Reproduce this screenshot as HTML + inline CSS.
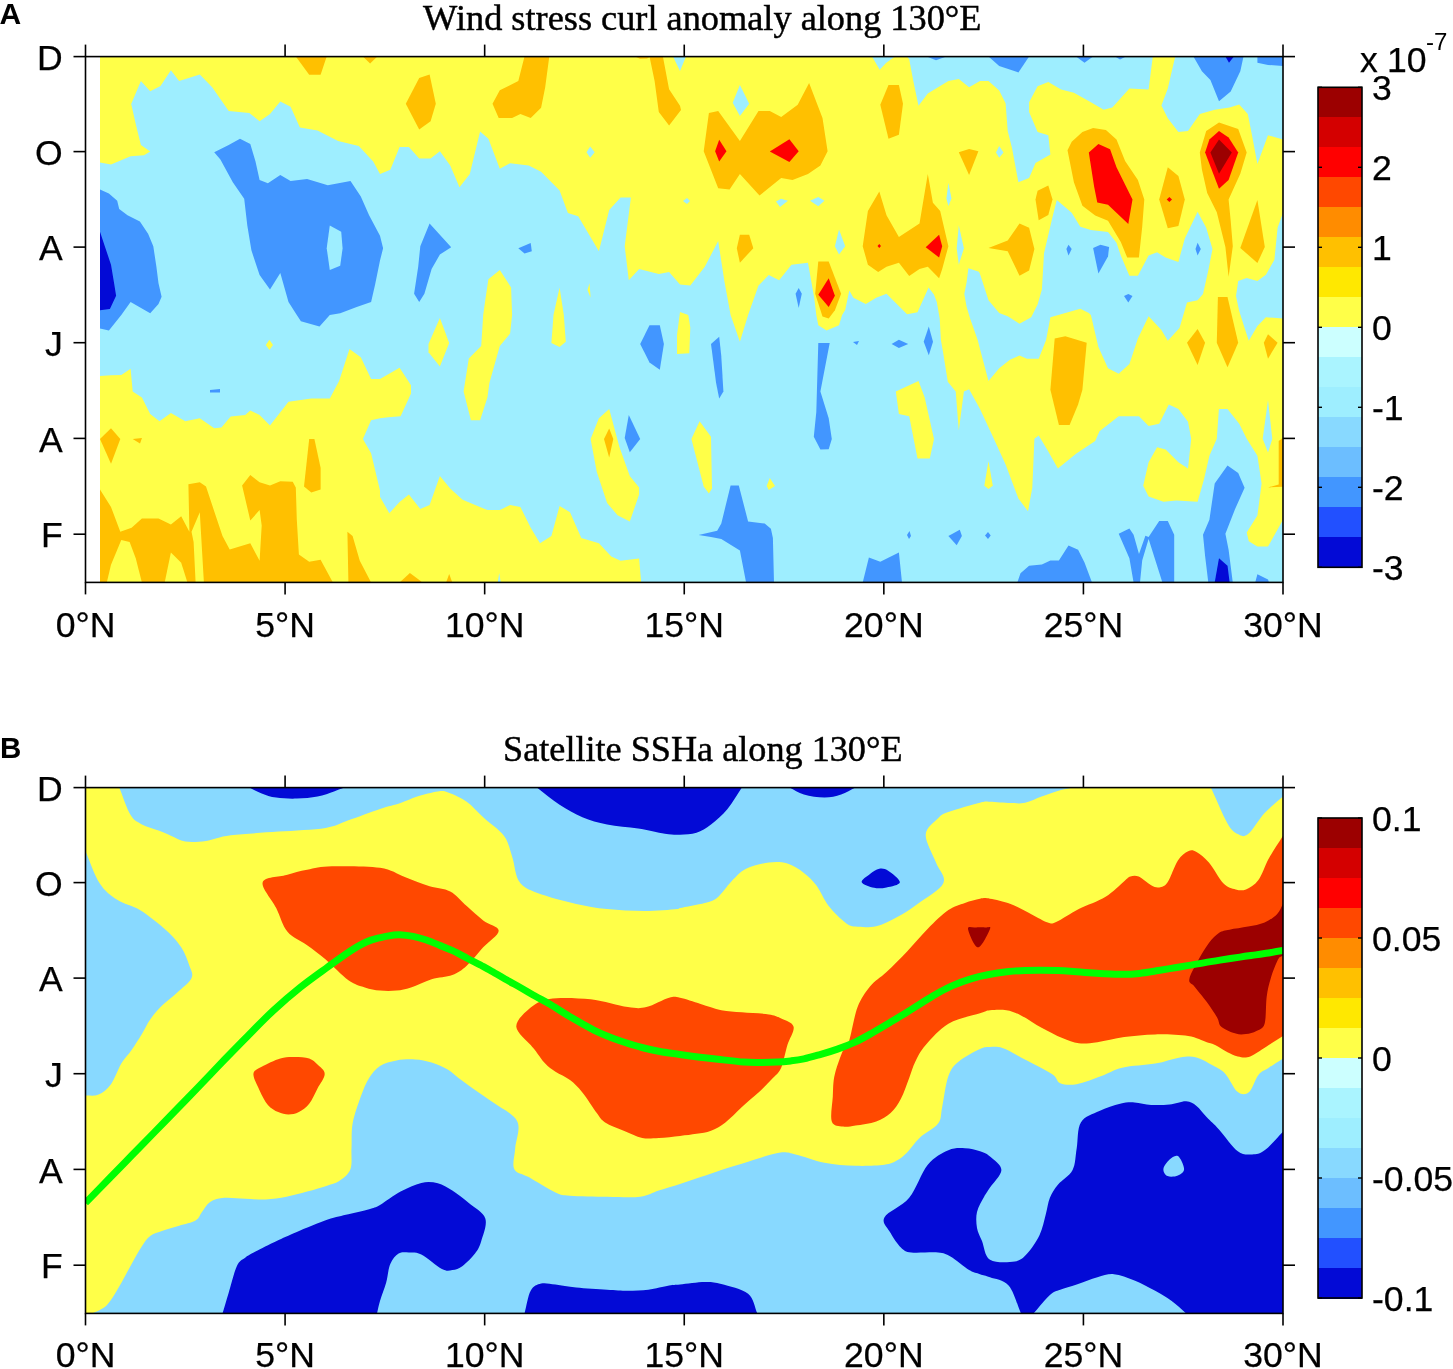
<!DOCTYPE html>
<html><head><meta charset="utf-8"><style>html,body{margin:0;padding:0;background:#fff;}svg{display:block;will-change:transform;}</style></head><body>
<svg width="1453" height="1369" viewBox="0 0 1453 1369">
<rect width="100%" height="100%" fill="#fff"/>
<defs><clipPath id="ca"><rect x="85.5" y="56.6" width="1197.5" height="525.8"/></clipPath><clipPath id="cb"><rect x="85.5" y="787.6" width="1197.5" height="525.8000000000001"/></clipPath></defs>
<g clip-path="url(#ca)">
<rect x="100" y="56.6" width="1183.0" height="525.8" fill="#FFFF48"/>
<polygon points="100,162.5 111,164.6 130.6,156.3 144,155.3 150.2,151.6 140.9,145 135.8,124.3 131.2,104.1 140.9,81 150.2,91.3 160.5,86.1 170.9,70.2 179.1,81 199.8,74.4 212.2,87.2 228.7,110.9 249.3,113 259.6,121.2 270,114 280.3,101.6 290.6,106.8 299.9,127.4 317.5,130.5 338.1,140.9 358.8,146 373.2,161.5 380,173.9 390.3,169.8 399.6,147 408.9,147 419.2,158.4 430.6,158.4 439.9,151.2 450.2,165.6 459.5,187.3 469.8,173.9 480.1,131.6 488.4,138.8 499.8,168.7 510.1,163.2 528.7,165.6 541.1,171.8 559.6,190.4 567.9,213.1 578.2,216.2 598.9,251.3 609.2,210 620.6,197.6 630.9,197.6 624.7,246.2 628.8,280.2 639.1,268.9 658.8,274 669.1,272 680,284.4 690.3,285.4 704.8,266.8 718.2,241 724.4,281.3 730.6,315 739.9,341.8 748.1,315 758.5,285.4 768.8,275.1 779.1,280.2 791.5,264.7 808,262.7 814.2,297.8 816.3,315 818.3,325.3 826.6,330.5 839,325.3 842.1,315 845.2,310 849.3,290.6 853.4,297.8 865.8,304 876.2,297.8 886.5,293.7 896.8,304 907.1,314.3 917.5,312.2 928.6,287.5 933.9,294.5 936.8,302.1 939.7,318.4 940.9,340 943.1,352.6 947.8,381.8 955.7,391.4 958.8,430.6 963.9,391.4 969.1,389.3 980,408.9 992.8,436.6 1005.6,464.4 1018.4,498.5 1028,511.3 1032.3,487.8 1034.4,438.7 1038.7,435.5 1048.3,451.5 1057.9,468.6 1076,453.7 1095.2,440.9 1099.5,431.3 1118.7,416.3 1139,416.3 1148.6,425.9 1159.2,423.8 1168.8,404.6 1178.4,408.9 1188,421.7 1191.2,438.7 1188,468.6 1178.4,462.2 1165.6,449.4 1157.1,447.3 1148.6,462.2 1143.2,485.7 1148.6,496.4 1163.5,501.7 1176.3,500.6 1197.6,501.7 1204,479.3 1209.4,455.8 1216.8,438.7 1218.9,408.9 1227.5,408.9 1239.2,423.8 1246.7,438.7 1257.4,455.8 1261.6,483.6 1257.4,515.6 1246.7,532.6 1248.8,541.2 1257.4,546.5 1268,546.5 1283,519.8 1283,582.5 641.2,582.5 639.1,558.6 620.6,560.7 611.3,556.6 598.9,543.2 581.3,538 570,512.2 559.6,506 551.4,535.9 540,543.2 530.7,527.7 520.4,507 510.1,505 499.8,510.1 487.4,510.1 462.6,499.8 450.2,488.4 439.9,476.1 429.6,505 420.3,509.1 408.9,494.6 399.6,501.9 389.3,513.2 380,496.7 380,490.5 371.1,453.3 362.9,438.9 371.1,420.3 380,418.2 388.3,417.2 400.6,416.2 411,393.5 411,385.2 399.6,367.7 380,379 371.1,379 360.8,357.3 349.5,349.1 339.1,381.1 329.8,398.6 311.3,398.6 288.5,401.7 270,425.5 259.6,415.1 250.3,410.4 245.2,415.1 230.7,416.6 221.4,427.5 214.2,428.2 199.8,418.2 185.3,421.3 170.9,413.1 159.5,421.3 150.2,414.1 141.9,397.6 132.7,391.4 130.6,368.7 121.3,374.9 111,375.3 100,375.9" fill="#9EEEFF"/>
<polygon points="964.3,293.9 966.6,282.2 968.4,268.2 978.9,271.7 980,274 988.5,300.3 999.2,313.1 1007.7,316.3 1019.5,323.7 1031.2,317.3 1037.6,304.5 1041.9,289.6 1044,253.3 1052.5,217.1 1056.8,200 1071.7,212.8 1080.3,226.7 1090.9,229.9 1108,232 1116.5,242.7 1120.8,255.5 1129.4,275.7 1137.9,275.7 1148.6,255.5 1157.1,252.3 1165.6,257.6 1178.4,261.9 1184.8,238.4 1197.6,211.7 1206.2,227.7 1212.5,249.1 1208.3,270.4 1203,293.9 1197.6,300.3 1187,302.4 1179.5,328 1167.8,340.8 1161.4,330.1 1148.6,316.3 1137.9,338.5 1129.4,364.1 1118.7,373.7 1108,368.3 1098.4,347 1090.9,315 1088.8,313.1 1080.3,308.8 1050.4,317.3 1046.1,340 1038.7,358.7 1026.9,358.7 1019.5,355.5 1009.9,359.8 999.2,368.3 988.5,381.1 980,349.1 977.7,340 970.1,318.4 966.6,306.8" fill="#9EEEFF"/>
<polygon points="872,56.5 879.7,69.8 886,63 895,56.5" fill="#9EEEFF"/>
<polygon points="907,56.5 909.2,59.3 913.3,81 918.5,105.8 927.8,93.4 948.4,81 958.8,78.9 969.1,87.2 980,80.9 988.5,80.9 999.2,90.5 1005.6,103.3 1007.7,131.1 1012,148.1 1018.4,182.3 1029.1,178 1035.5,163.1 1050.4,154.5 1048.3,135.3 1037.6,132.1 1029.1,111.9 1029.1,102.3 1037.6,86.3 1048.3,82 1061.1,89.5 1073.9,92.7 1090.9,102.3 1103.7,109.7 1112.3,107.6 1129.4,88.4 1148.6,89.5 1152.8,56.5" fill="#9EEEFF"/>
<polygon points="1175.2,56.5 1283,56.5 1283,139.6 1268,135.3 1257.4,164.1 1252,135.3 1247.8,114 1239.2,104.4 1229.6,107.6 1214.7,109.7 1199.8,114 1188,131.1 1178.4,132.1 1167.8,118.3 1161.4,105.5 1167.8,88.4" fill="#9EEEFF"/>
<polygon points="1283,212.8 1277.6,227.7 1274.4,259.7 1265.9,274.7 1257.4,281.1 1246.7,277.9 1238.2,281.1 1236,296 1239.2,310.9 1244.6,328 1248.8,340.8 1257.4,325.9 1265.9,317.3 1283,318.4" fill="#9EEEFF"/>
<polygon points="673,56.5 686,56.5 680,71" fill="#9EEEFF"/>
<polygon points="488.4,279.2 499.8,269.9 511.1,287.5 512.1,315 510.1,333.6 499.8,346 489.4,383.1 487.4,397.6 480.1,420.3 470.9,420.3 463.6,391.4 468.8,358.4 481.2,346 483.2,315 485.3,300" fill="#FFFF48"/>
<polygon points="559.6,287.5 563.8,315 565.8,341.8 559.6,347 551.4,342.9 553.5,315" fill="#FFFF48"/>
<polygon points="428.5,343.9 439.9,318.1 449.2,342.9 439.9,366.6 428.5,352.2" fill="#FFFF48"/>
<polygon points="587.5,290 589.5,283.3 590.6,297.7" fill="#FFFF48"/>
<polygon points="265.8,345 269.4,339.8 273,345 269.4,350" fill="#FFFF48"/>
<polygon points="590.6,438.9 598.9,418.2 609.2,409 619.5,447.2 629.8,476.1 639.1,487.4 639.1,494.6 629.8,521.5 617.5,515.3 607.1,502.9 596.8,471.9" fill="#FFFF48"/>
<polygon points="691.4,438.9 699.6,421.3 711,436.8 712,488.4 708.9,493.6 703.7,486.4" fill="#FFFF48"/>
<polygon points="766.7,486 769.8,478 775,486 768.8,490" fill="#FFFF48"/>
<polygon points="677,335 680,312 688.3,315 690.3,327.4 689.3,353.2 677,354" fill="#FFFF48"/>
<polygon points="895.8,391.4 918.5,381.1 924.7,397.6 934,438.9 929.8,458.5 917.5,458.5 909.2,416.2 898.9,414.1" fill="#FFFF48"/>
<polygon points="984.3,485.7 988.5,461.2 992.8,485.7 988.5,488.9" fill="#FFFF48"/>
<polygon points="1262.7,438.7 1268,400.3 1272.3,438.7 1268,452.6" fill="#9EEEFF"/>
<polygon points="683,201 687,198 690,201 687,204" fill="#9EEEFF"/>
<polygon points="776,201.5 781,198.7 788,200.7 780,206.9" fill="#9EEEFF"/>
<polygon points="810,200.7 818.3,197 824.5,200.7 818.3,206.3" fill="#9EEEFF"/>
<polygon points="946.4,198.6 948.4,183 951.5,198.6 948.4,206" fill="#9EEEFF"/>
<polygon points="956.7,248.2 958.8,225.5 963.9,248.2 958.8,264.7" fill="#9EEEFF"/>
<polygon points="834.9,246.2 839,229.6 845.2,246.2 839,254.4" fill="#9EEEFF"/>
<polygon points="732.7,102.7 739.9,85.1 749.2,103.7 739.9,116.1" fill="#9EEEFF"/>
<polygon points="586.5,152.2 590.2,146.6 594.7,152.2 590.2,157.8" fill="#9EEEFF"/>
<polygon points="996,152.4 999.2,146 1003.5,152.4 999.2,157.7" fill="#9EEEFF"/>
<polygon points="497.7,582.5 499.2,573 500.8,582.5" fill="#9EEEFF"/>
<polygon points="100,189.4 108.9,193.5 117.2,200.7 119.2,209 127.5,215.2 139.9,221.4 148.1,233.8 153.3,246.2 156.4,266.8 158.5,283.3 161.6,296.7 158.5,304 150.2,313.3 130.6,301.9 121.3,315 108.9,330.5 100,328.4" fill="#4296FF"/>
<polygon points="214.2,152.2 228.7,145 240,138.8 250.3,144 255.5,161.5 259.6,180.1 267.9,183.2 280.3,174.9 290.6,181.1 307.1,179.1 327.8,185.2 350.5,181.1 360.8,196.6 369.1,215.2 380,235.8 383.1,248.2 380,260.6 375,285 371.1,301.9 356.7,307.1 340.2,313.3 329.8,315 319.5,326.4 300.9,321.2 296.8,315 288.5,301.9 280.3,273 270,289.5 259.6,275.1 251.4,250.3 247.3,225.5 244.2,198.7 232.8,182.2 220.4,159.4" fill="#4296FF"/>
<polygon points="420.3,246.2 429.6,223.4 451.2,247.2 439.9,254.4 431.6,268.9 424.4,293.7 419.2,301.9 414.1,293.7 418.2,266.8" fill="#4296FF"/>
<polygon points="518.3,248.2 530.7,243.1 531.8,251.3 524.5,253.4" fill="#4296FF"/>
<polygon points="640.2,343.9 649.5,325.3 659.8,325.3 663.9,343.9 659.8,369.7 649.5,362.5" fill="#4296FF"/>
<polygon points="624.7,437.9 628.8,415.1 640.2,438.9 629.8,452.3" fill="#4296FF"/>
<polygon points="711,343.9 719.2,336.7 721.3,356.3 723.4,391.4 719.2,398.6 716.1,383.1" fill="#4296FF"/>
<polygon points="818.3,342.9 829.7,342.9 820.4,391.4 828.7,418.2 831.8,438.9 828.7,449.2 820.4,449.6 813.8,436.8 816.3,412" fill="#4296FF"/>
<polygon points="891.6,343.9 898.9,339.8 908.2,343.9 898.9,348" fill="#4296FF"/>
<polygon points="923.7,341.8 928.8,326.4 933,341.8 928.8,355.3" fill="#4296FF"/>
<polygon points="853,342 859,341 857,345" fill="#4296FF"/>
<polygon points="698.6,534.9 717.2,530.8 721.3,523.5 730.6,485.4 738.8,485.4 748.1,521.5 764.7,523.5 770.9,528.7 772.9,538 774,582.5 746.1,582.5 739.9,550.4 721.3,539 711,537" fill="#4296FF"/>
<polygon points="862.7,582.5 868.9,557.6 880.3,561.7 898.9,552.5 902,582.5" fill="#4296FF"/>
<polygon points="948.4,536 959.8,529.7 961.9,536 956.7,545.2" fill="#4296FF"/>
<polygon points="907,535 909.5,531 911,536 909,539" fill="#4296FF"/>
<polygon points="795.6,293.7 798.7,288 801.8,293.7 798.7,308.1" fill="#4296FF"/>
<polygon points="210,390 220,389 220,392.5 210,392.5" fill="#4296FF"/>
<polygon points="1017.3,582.5 1020.5,573.2 1029.1,565.7 1041.9,564.6 1050.4,560.4 1058.9,560.4 1068.5,545.4 1078.1,549.7 1084.5,562.5 1092,582.5" fill="#4296FF"/>
<polygon points="1118.7,533.7 1129.4,528.4 1133.6,534.8 1139,554 1145.4,535.8 1148.6,536.9 1159.2,520.9 1167.8,520.9 1174.2,534.8 1174.2,582.5 1162.4,582.5 1148.6,539 1142.2,560.4 1140,582.5 1133.6,582.5 1129.4,558.2" fill="#4296FF"/>
<polygon points="1203,534.8 1209.4,519.8 1214.7,483.6 1227.5,465.4 1238.2,472.9 1244.6,487.8 1235,509.2 1225.4,533.7 1228.6,549.7 1232.8,582.5 1208.3,582.5 1205.1,556.1" fill="#4296FF"/>
<polygon points="1255.2,582.5 1257.4,574.2 1268,579.6 1269,582.5" fill="#4296FF"/>
<polygon points="985,535.5 988,532 990.7,535.5 988,539" fill="#4296FF"/>
<polygon points="1066.4,249 1068.5,244.8 1071.7,249 1068.5,255.5" fill="#4296FF"/>
<polygon points="1093.1,248 1100.5,244.8 1109.1,246.9 1108,256.5 1098.4,273.6" fill="#4296FF"/>
<polygon points="1195.5,249 1197.6,242.7 1200.8,249 1197.6,255.5" fill="#4296FF"/>
<polygon points="1124,296 1128.3,293.9 1132.5,296 1128.3,302.4" fill="#4296FF"/>
<polygon points="988.5,56.5 999.2,66 1018.4,72.4 1029.1,56.5" fill="#4296FF"/>
<polygon points="1076,56.5 1084.5,62.8 1093.1,56.5" fill="#4296FF"/>
<polygon points="1115,56.5 1120,59.5 1126,56.5" fill="#4296FF"/>
<polygon points="1193.4,56.5 1201.9,71.3 1210.4,79.9 1219,101.2 1230.7,91.6 1240.3,71.3 1243.5,56.5" fill="#4296FF"/>
<polygon points="1257.4,56.5 1257.4,62.8 1268,64.9 1283,66 1283,56.5" fill="#4296FF"/>
<polygon points="926.7,56.5 936,60.3 946.4,56.5" fill="#4296FF"/>
<polygon points="100,231.7 104.8,246.2 111,264.7 114.1,283.3 116.1,295.7 109.9,309.1 100,310.2" fill="#030AD6"/>
<polygon points="1214.7,582.5 1219,558.2 1227.5,565.7 1229.6,582.5" fill="#030AD6"/>
<polygon points="1225.4,56.5 1229,62.8 1233.9,56.5" fill="#030AD6"/>
<polygon points="329.8,225.5 341.2,231.7 342.6,248.2 340.2,265.8 329.8,269.9 326.7,248.2" fill="#9EEEFF"/>
<polygon points="295.8,56.5 309.2,74.8 320.6,74.8 326.7,56.5" fill="#FFC000"/>
<polygon points="635,56.5 640,58.8 647,58.6 651,56.5" fill="#FFC000"/>
<polygon points="362.9,56.5 370.1,63.4 377.3,56.5" fill="#FFC000"/>
<polygon points="405.8,103.7 419.2,77.9 429.6,74.4 435.8,103.7 430.6,121.2 419.2,129.5" fill="#FFC000"/>
<polygon points="524.5,56.5 549.3,56.5 545.2,87.2 541.1,107.8 530.7,118.1 520.4,114 512.1,118.1 498.7,118.1 492.5,103.7 499.8,90.3 518.3,81" fill="#FFC000"/>
<polygon points="649.5,56.5 662.9,56.5 669.1,89.2 680,105.8 681,110 669.1,125.4 658.8,112 654.6,81" fill="#FFC000"/>
<polygon points="703.7,151.2 708.9,113 718.2,110.9 739.9,140.9 758.5,110.9 769.8,110.9 781.2,117.1 797.7,104.7 809.1,83 822.5,118.1 827.6,151.2 820.4,165.6 808,173.9 792.5,180.1 781.2,178 759.5,195.6 739.9,173.9 729.6,189.4 718.2,188.3" fill="#FFC000"/>
<polygon points="880.3,104.7 888.5,85.1 898.9,85.1 903,103.7 898.9,134.7 888.5,138.8" fill="#FFC000"/>
<polygon points="958.8,152.2 969.1,149.1 978.4,151.2 969.1,174.9" fill="#FFC000"/>
<polygon points="736.8,248.2 739.9,234.8 749.2,234.8 753.3,248.2 739.9,262.7" fill="#FFC000"/>
<polygon points="862.7,246.2 867.9,211.1 879.3,191.4 886.5,215.2 898.9,236.9 919.5,223.4 927.8,173.9 932.9,202.8 940.2,211.1 948.4,246.2 942.2,268.9 939.1,278.2 927.8,266.8 919.5,268.9 909.2,276.1 898.9,262.7 886.5,266.8 878.2,272 867.9,264.7" fill="#FFC000"/>
<polygon points="815.2,293.7 818.3,261.6 828.7,261.6 841.1,293.7 834.9,310.2 828.7,318.4 822.5,316.4" fill="#FFC000"/>
<polygon points="1067.5,150.3 1071.7,141.7 1082.4,132.1 1093.1,127.9 1105.9,130 1116.5,139.6 1125.1,160.9 1137.9,180.1 1144.3,199.4 1142.2,227.1 1138.9,257.6 1127.2,257.6 1120.8,242 1108,220.7 1095.2,215.4 1082.4,205.8 1073.9,182.3" fill="#FFC000"/>
<polygon points="1159.2,199.4 1167.8,167.3 1178.4,175.9 1184.8,199.4 1178.4,226 1167.8,228.2" fill="#FFC000"/>
<polygon points="1199.8,152.4 1206.2,131.1 1219,122.5 1238.2,128.9 1246.7,152.4 1240.3,173.7 1228.6,199.4 1230.7,220.7 1232.8,246.3 1228.6,276.8 1225.4,246.9 1216.8,212.2 1207.2,193 1201.9,169.5" fill="#FFC000"/>
<polygon points="1035.5,199.4 1037.6,190.8 1048.3,185.5 1052.5,199.4 1048.3,214.9 1038.7,220.3" fill="#FFC000"/>
<polygon points="988.5,248 1007.7,240.5 1019.5,223.5 1029.1,227.7 1034.4,249.1 1029.1,270.4 1019.5,275.7 1007.7,251.2" fill="#FFC000"/>
<polygon points="1240.3,248 1257.4,200 1264.8,247 1257.4,262.9" fill="#FFC000"/>
<polygon points="1050.4,389.7 1054.7,338.5 1065.3,336.3 1086.7,342.7 1082.4,389.7 1078.1,404.6 1069.6,424.9 1058.9,424.9" fill="#FFC000"/>
<polygon points="1187,342.7 1197.6,328.9 1205.1,342.7 1197.6,365.1" fill="#FFC000"/>
<polygon points="1216.8,342.7 1217.9,297.1 1227.5,297.1 1238.2,342.7 1227.5,367.3" fill="#FFC000"/>
<polygon points="1263.8,342.7 1268,334.2 1277.6,342.7 1268,358.7" fill="#FFC000"/>
<polygon points="1278.7,440.9 1283,437.7 1283,486.8 1268,487.4 1278.7,484.6" fill="#FFC000"/>
<polygon points="100,489.5 111,507 120.3,531.8 131.6,527.7 141.9,518.4 158.5,518.4 170.9,524.6 181.2,516.3 189.4,531.8 188.4,484.3 199.8,482.3 206,486.4 214.2,511.2 222.5,536 229.7,549.4 250.3,543.2 259.6,560.7 261.7,525.6 259.6,510.1 250.3,520.5 242.1,485.4 250.3,475 259.6,482.3 270,485.4 280.3,481.2 292.7,481.8 295.8,487.4 296.8,519.4 298.9,554.5 309.2,561.7 320.6,559.7 332.9,582.5 100,582.5" fill="#FFC000"/>
<polygon points="304,486.4 309.2,438.9 314.4,438.9 320.6,467.8 320.6,489.5 311.3,492.6" fill="#FFC000"/>
<polygon points="348.4,582.5 347.4,531.8 352.6,536 359.8,560.7 371.1,582.5" fill="#FFC000"/>
<polygon points="100,438.9 111,428.2 120.3,438.9 111,463.7" fill="#FFC000"/>
<polygon points="132.7,439 142,438 140,443.5" fill="#FFC000"/>
<polygon points="399.6,582.5 409.9,573.1 421.3,581.4 421.3,582.5" fill="#FFC000"/>
<polygon points="446.1,582.5 449.2,574.1 452.3,582.5" fill="#FFC000"/>
<polygon points="106.8,582.5 111,564.8 121.3,540.1 129.6,542.1 135.8,558.6 141.9,582.5" fill="#FFFF48"/>
<polygon points="164.7,582.5 170.9,552.5 181.2,562.8 187.4,582.5" fill="#FFFF48"/>
<polygon points="195.6,582.5 193.6,542.1 191.5,531.8 199.8,512.2 203.9,582.5" fill="#FFFF48"/>
<polygon points="604,438.9 609.2,428.6 613.3,438.9 609.2,457.5" fill="#FFC000"/>
<polygon points="715.1,151.2 719.2,139.8 726.5,151.2 719.2,161.5" fill="#FF0000"/>
<polygon points="769.8,151.6 789.4,139.2 798.7,151.2 789.4,161.9" fill="#FF0000"/>
<polygon points="925.7,247.2 939.1,234.8 942.2,246.2 939.1,257.5" fill="#FF0000"/>
<polygon points="818.3,294.7 828.7,278.2 834.9,295.7 828.7,307.1" fill="#FF0000"/>
<polygon points="1088.8,152.4 1098.4,143.9 1110.1,149.2 1116.5,167.3 1132.5,199.4 1128.3,223.9 1108,204.7 1097.3,202.5 1094.1,186.5" fill="#FF0000"/>
<polygon points="1166.7,199.5 1169.4,197 1172,199.5 1169.4,202" fill="#FF0000"/>
<polygon points="1205.1,152.4 1209.4,139.6 1219,131.1 1228.6,137.5 1238.2,152.4 1228.6,180.1 1219,188.7" fill="#FF0000"/>
<polygon points="877.5,246 879.3,244 881,246 879.3,248" fill="#FF0000"/>
<polygon points="1210.4,152.4 1219,139.6 1231.8,152.4 1219,173.7" fill="#9C0000"/>
</g>
<g clip-path="url(#cb)">
<rect x="85.5" y="787.6" width="1197.5" height="525.8000000000001" fill="#FFFF48"/>
<path d="M119.2,787.5 C123.0,796.7 126.8,809.0 130.6,815.1 C134.4,821.2 137.2,821.8 141.9,824.4 C146.6,827.0 153.7,828.7 158.5,830.6 C163.3,832.5 166.4,833.9 170.9,835.7 C175.4,837.5 179.5,840.6 185.3,841.5 C191.2,842.4 198.4,841.9 206.0,840.9 C213.6,839.9 218.7,836.8 230.7,835.3 C242.7,833.8 262.4,832.8 278.2,831.6 C294.0,830.4 314.0,829.8 325.7,827.9 C337.4,826.0 339.3,823.5 348.4,820.3 C357.4,817.1 371.3,811.8 380.0,808.9 C388.7,806.0 394.4,805.1 400.6,803.0 C406.8,800.9 411.0,798.4 417.2,796.5 C423.4,794.6 432.6,792.1 437.8,791.4 C443.0,790.7 443.3,790.7 448.1,792.4 C452.9,794.1 460.9,797.6 466.7,801.7 C472.5,805.8 477.0,811.5 483.2,817.2 C489.4,822.9 499.1,829.2 503.9,835.7 C508.7,842.2 509.4,848.5 512.1,856.4 C514.9,864.3 514.9,876.7 520.4,883.2 C525.9,889.7 535.9,892.2 545.2,895.6 C554.5,899.0 565.9,901.6 576.2,903.9 C586.5,906.1 595.8,907.9 607.1,909.1 C618.5,910.3 632.6,911.1 644.3,911.1 C656.0,911.1 671.3,909.5 677.3,909.0 C683.2,908.5 675.4,909.0 680.0,908.0 C684.6,907.0 698.6,904.6 704.8,902.9 C711.0,901.2 712.7,901.3 717.2,897.7 C721.7,894.1 726.8,886.0 731.6,881.2 C736.4,876.4 739.9,871.9 746.1,868.8 C752.3,865.7 761.9,863.5 768.8,862.6 C775.7,861.7 781.5,861.9 787.4,863.6 C793.2,865.3 799.1,869.3 803.9,872.9 C808.7,876.5 812.2,879.8 816.3,885.3 C820.4,890.8 823.9,899.8 828.7,906.0 C833.5,912.2 840.7,919.1 845.2,922.5 C849.7,925.9 850.3,926.0 855.5,926.6 C860.7,927.2 869.3,927.8 876.2,926.2 C883.1,924.7 889.9,921.0 896.8,917.3 C903.7,913.6 909.8,909.6 917.5,903.9 C925.2,898.2 940.2,890.1 943.3,883.2 C946.4,876.3 938.9,870.7 936.0,862.6 C933.1,854.5 925.4,842.1 925.7,834.7 C926.1,827.3 934.3,822.0 938.1,818.2 C941.9,814.4 941.4,814.6 948.4,812.0 C955.4,809.4 973.1,804.4 980.0,802.7 C986.9,801.0 984.9,801.6 990.0,801.7 C995.1,801.8 1004.8,802.9 1010.6,803.1 C1016.5,803.3 1019.9,803.8 1025.1,802.7 C1030.3,801.6 1036.4,798.4 1041.6,796.5 C1046.8,794.6 1050.9,792.9 1056.1,791.4 C1061.3,789.9 1067.1,788.8 1072.6,787.5 L119.2,787.5 Z" fill="#88D9FF"/>
<path d="M85.5,851.2 C90.2,861.9 94.3,875.1 99.6,883.2 C104.9,891.3 110.5,895.3 117.2,899.8 C123.9,904.3 131.7,905.0 139.9,910.1 C148.2,915.2 159.8,924.5 166.7,930.7 C173.6,936.9 177.4,941.4 181.2,947.3 C185.0,953.1 187.7,960.6 189.4,965.8 C191.1,970.9 193.6,973.7 191.5,978.2 C189.4,982.7 181.8,988.2 177.0,992.7 C172.2,997.2 167.1,1000.6 162.6,1005.1 C158.1,1009.6 153.6,1014.7 150.2,1019.5 C146.8,1024.3 145.0,1028.9 141.9,1034.0 C138.8,1039.1 135.0,1045.1 131.6,1050.0 C128.2,1054.9 124.7,1057.9 121.3,1063.6 C117.9,1069.3 114.8,1079.0 111.0,1084.2 C107.2,1089.4 102.8,1092.7 98.6,1094.6 C94.3,1096.5 89.9,1095.3 85.5,1095.6 L85.5,851.2 Z" fill="#88D9FF"/>
<path d="M92.4,1313.5 C97.2,1310.7 102.3,1309.7 106.8,1305.2 C111.3,1300.7 115.1,1293.5 119.2,1286.6 C123.3,1279.7 127.8,1270.6 131.6,1263.9 C135.4,1257.2 138.8,1251.0 141.9,1246.3 C145.0,1241.6 146.8,1238.6 150.2,1236.0 C153.6,1233.4 157.8,1232.5 162.6,1230.8 C167.4,1229.1 173.6,1227.4 179.1,1225.7 C184.6,1224.0 191.8,1222.7 195.6,1220.5 C199.4,1218.3 199.4,1215.4 201.8,1212.3 C204.2,1209.2 206.3,1204.3 210.1,1201.9 C213.9,1199.5 218.7,1198.3 224.5,1197.8 C230.3,1197.3 238.3,1198.5 245.2,1198.8 C252.1,1199.1 258.9,1199.8 265.8,1199.5 C272.7,1199.2 279.6,1198.1 286.5,1196.8 C293.4,1195.5 300.2,1193.5 307.1,1191.6 C314.0,1189.7 322.3,1187.3 327.8,1185.4 C333.3,1183.5 336.4,1183.0 340.2,1180.2 C344.0,1177.5 348.6,1174.2 350.5,1168.9 C352.4,1163.6 351.1,1155.8 351.5,1148.2 C351.9,1140.6 351.1,1132.1 352.6,1123.5 C354.2,1114.9 358.1,1104.2 360.8,1096.6 C363.6,1089.0 365.9,1083.1 369.1,1078.0 C372.3,1072.9 375.4,1068.9 380.0,1066.0 C384.6,1063.1 390.6,1061.6 396.5,1060.5 C402.4,1059.4 409.2,1059.2 415.1,1059.5 C421.0,1059.8 426.1,1060.9 431.6,1062.6 C437.1,1064.3 443.6,1067.2 448.1,1069.8 C452.6,1072.4 454.4,1074.9 458.5,1078.0 C462.6,1081.1 467.0,1084.3 472.9,1088.4 C478.8,1092.5 486.2,1097.3 493.6,1102.8 C501.0,1108.3 513.7,1113.8 517.3,1121.4 C520.9,1129.0 515.7,1140.3 515.2,1148.2 C514.7,1156.1 512.0,1164.1 514.2,1168.9 C516.5,1173.7 521.8,1173.1 528.7,1177.1 C535.6,1181.0 548.6,1189.5 555.5,1192.6 C562.4,1195.7 561.4,1195.0 570.0,1195.7 C578.6,1196.4 595.4,1196.6 607.1,1196.8 C618.8,1197.0 631.6,1197.8 640.2,1196.8 C648.8,1195.8 652.2,1192.7 658.8,1190.6 C665.4,1188.5 673.0,1186.2 680.0,1184.0 C687.0,1181.8 693.7,1179.4 700.6,1177.1 C707.5,1174.8 713.4,1172.5 721.3,1169.9 C729.2,1167.3 738.5,1164.6 748.1,1161.7 C757.7,1158.8 771.2,1154.0 779.1,1152.8 C787.0,1151.6 788.0,1152.8 795.6,1154.4 C803.2,1156.1 814.5,1160.8 824.5,1162.7 C834.5,1164.6 845.5,1165.5 855.5,1165.8 C865.5,1166.1 877.5,1165.7 884.4,1164.8 C891.3,1163.9 893.0,1162.7 896.8,1160.6 C900.6,1158.5 903.3,1156.2 907.1,1152.4 C910.9,1148.6 914.3,1142.7 919.5,1137.9 C924.7,1133.1 934.3,1128.7 938.1,1123.5 C941.9,1118.3 940.5,1114.8 942.2,1106.9 C943.9,1099.0 945.6,1083.6 948.4,1076.0 C951.2,1068.4 953.5,1066.0 958.8,1061.5 C964.1,1057.0 974.8,1051.5 980.0,1049.1 C985.2,1046.7 986.3,1047.3 990.0,1047.1 C993.7,1046.9 997.2,1046.4 1002.4,1048.1 C1007.6,1049.8 1012.8,1053.1 1021.0,1057.4 C1029.2,1061.7 1045.4,1069.6 1051.9,1073.9 C1058.4,1078.2 1056.1,1081.5 1060.2,1083.2 C1064.3,1084.9 1069.8,1085.4 1076.7,1084.2 C1083.6,1083.0 1093.9,1078.8 1101.5,1076.0 C1109.1,1073.2 1113.2,1069.8 1122.2,1067.7 C1131.2,1065.6 1145.6,1065.3 1155.2,1063.6 C1164.8,1061.9 1173.1,1058.4 1180.0,1057.4 C1186.9,1056.4 1191.0,1056.0 1196.5,1057.4 C1202.0,1058.8 1208.2,1062.8 1213.0,1065.6 C1217.8,1068.3 1221.3,1069.5 1225.4,1073.9 C1229.5,1078.3 1233.8,1089.1 1237.8,1092.1 C1241.8,1095.1 1245.7,1095.0 1249.1,1092.1 C1252.5,1089.2 1255.1,1079.0 1258.4,1074.9 C1261.7,1070.8 1264.7,1070.5 1268.8,1067.7 C1272.9,1065.0 1278.3,1061.5 1283.0,1058.4 L1283.0,1313.5 L92.4,1313.5 Z" fill="#88D9FF"/>
<path d="M1210.9,787.5 C1216.4,799.5 1223.0,815.6 1227.5,823.4 C1232.0,831.2 1234.4,832.3 1237.8,834.1 C1241.2,835.9 1243.6,837.6 1248.1,834.1 C1252.6,830.6 1258.8,819.3 1264.6,813.0 C1270.4,806.7 1276.9,802.0 1283.0,796.5 L1283.0,787.5 L1210.9,787.5 Z" fill="#88D9FF"/>
<path d="M249.3,787.5 C253.4,789.5 257.2,791.7 261.7,793.4 C266.2,795.1 270.3,796.7 276.2,797.6 C282.1,798.5 289.9,798.8 296.8,798.6 C303.7,798.4 311.3,797.7 317.5,796.5 C323.7,795.3 329.5,792.9 334.0,791.4 C338.5,789.9 340.9,788.8 344.3,787.5 L249.3,787.5 Z" fill="#030AD6"/>
<path d="M536.9,787.5 C544.5,793.3 552.0,799.8 559.6,804.8 C567.2,809.8 574.5,813.9 582.4,817.2 C590.3,820.5 597.8,822.5 607.1,824.4 C616.4,826.3 628.5,827.0 638.1,828.5 C647.7,830.0 657.9,832.7 664.9,833.7 C671.9,834.7 674.7,834.9 680.0,834.7 C685.3,834.5 691.3,834.4 696.5,832.7 C701.7,831.0 705.8,828.4 711.0,824.4 C716.2,820.4 722.4,815.0 727.5,808.9 C732.6,802.8 737.1,794.6 741.9,787.5 L536.9,787.5 Z" fill="#030AD6"/>
<path d="M789.4,787.5 C794.2,789.8 798.0,792.8 803.9,794.5 C809.8,796.2 818.3,797.6 824.5,797.6 C830.7,797.6 835.9,796.2 841.1,794.5 C846.3,792.8 850.7,789.8 855.5,787.5 L789.4,787.5 Z" fill="#030AD6"/>
<path d="M861.7,882.2 C861.0,879.9 867.1,876.2 870.0,874.0 C872.9,871.8 876.2,869.3 879.3,868.8 C882.4,868.3 885.1,868.7 888.5,870.9 C891.9,873.1 900.2,879.5 899.9,882.2 C899.6,885.0 890.8,886.5 886.5,887.4 C882.2,888.3 878.2,888.7 874.1,887.8 C870.0,886.9 862.4,884.5 861.7,882.2 Z" fill="#030AD6"/>
<path d="M222.5,1313.5 C224.6,1306.6 226.3,1300.7 228.7,1292.8 C231.1,1284.9 234.2,1271.8 236.9,1265.9 C239.7,1260.1 242.1,1260.1 245.2,1257.7 C248.3,1255.3 250.3,1254.2 255.5,1251.5 C260.7,1248.8 269.3,1244.5 276.2,1241.2 C283.1,1237.9 288.2,1235.5 296.8,1231.9 C305.4,1228.3 319.2,1222.4 327.8,1219.5 C336.4,1216.6 341.5,1216.0 348.4,1214.3 C355.3,1212.6 363.8,1210.8 369.1,1209.2 C374.4,1207.7 374.8,1207.9 380.0,1205.0 C385.2,1202.1 393.7,1195.3 400.6,1191.6 C407.5,1187.9 415.1,1184.3 421.3,1182.9 C427.5,1181.5 432.6,1182.0 437.8,1183.3 C443.0,1184.6 447.1,1187.3 452.3,1190.6 C457.5,1193.9 463.3,1198.4 468.8,1203.0 C474.3,1207.6 483.2,1212.0 485.3,1218.4 C487.4,1224.8 482.9,1235.4 481.2,1241.2 C479.5,1247.0 478.1,1249.4 475.0,1253.5 C471.9,1257.6 466.4,1263.1 462.6,1265.9 C458.8,1268.7 455.8,1269.6 452.3,1270.1 C448.9,1270.6 447.1,1271.6 441.9,1269.0 C436.7,1266.4 426.8,1257.3 421.3,1254.6 C415.8,1251.8 412.7,1252.7 408.9,1252.5 C405.1,1252.3 401.7,1251.6 398.6,1253.5 C395.5,1255.4 392.4,1259.1 390.3,1263.9 C388.2,1268.7 387.9,1276.3 386.2,1282.5 C384.5,1288.7 381.5,1295.8 380.0,1301.0 C378.5,1306.2 378.0,1309.3 377.0,1313.5 L222.5,1313.5 Z" fill="#030AD6"/>
<path d="M524.5,1313.5 C526.6,1305.9 527.9,1295.7 530.7,1290.7 C533.5,1285.7 537.0,1284.5 541.1,1283.5 C545.2,1282.5 549.6,1283.8 555.5,1284.5 C561.4,1285.2 567.6,1286.7 576.2,1287.6 C584.8,1288.5 598.5,1289.2 607.1,1289.7 C615.7,1290.2 620.9,1290.7 627.8,1290.7 C634.7,1290.7 641.5,1290.6 648.4,1289.7 C655.3,1288.8 663.8,1286.4 669.1,1285.5 C674.4,1284.6 674.0,1285.1 680.0,1284.5 C686.0,1283.9 697.9,1282.1 704.8,1282.0 C711.7,1281.9 714.1,1282.1 721.3,1284.1 C728.5,1286.1 742.1,1288.9 748.1,1293.8 C754.1,1298.7 754.3,1306.9 757.4,1313.5 L524.5,1313.5 Z" fill="#030AD6"/>
<path d="M884.4,1217.4 C887.5,1211.6 902.0,1206.6 909.2,1197.8 C916.4,1189.0 921.3,1172.7 927.8,1164.8 C934.3,1156.9 942.2,1153.1 948.4,1150.3 C954.6,1147.5 959.7,1148.0 965.0,1148.2 C970.3,1148.4 975.8,1149.9 980.0,1151.3 C984.2,1152.7 986.4,1153.4 990.0,1156.5 C993.6,1159.6 1001.4,1164.7 1001.4,1169.9 C1001.4,1175.1 992.9,1183.0 990.0,1187.5 C987.1,1192.0 986.2,1192.9 984.0,1197.0 C981.8,1201.1 978.2,1206.8 977.0,1212.0 C975.8,1217.2 976.2,1223.2 977.0,1228.0 C977.8,1232.8 979.8,1235.7 982.0,1241.0 C984.2,1246.3 984.5,1256.3 990.0,1259.7 C995.5,1263.1 1008.6,1262.4 1014.8,1261.4 C1021.0,1260.4 1023.1,1257.9 1027.2,1253.5 C1031.3,1249.1 1036.5,1241.5 1039.6,1235.0 C1042.7,1228.5 1044.1,1220.5 1045.8,1214.3 C1047.5,1208.1 1047.9,1202.8 1049.9,1197.8 C1052.0,1192.8 1054.3,1189.1 1058.1,1184.4 C1061.9,1179.8 1069.5,1175.9 1072.6,1169.9 C1075.7,1163.9 1075.3,1156.1 1076.7,1148.2 C1078.1,1140.3 1077.1,1128.6 1080.9,1122.4 C1084.7,1116.2 1092.9,1114.2 1099.4,1111.1 C1105.9,1108.0 1114.2,1105.2 1120.1,1103.8 C1125.9,1102.3 1129.3,1102.2 1134.5,1102.4 C1139.7,1102.6 1145.2,1104.6 1151.1,1104.9 C1156.9,1105.2 1163.8,1105.1 1169.6,1104.5 C1175.4,1103.9 1181.7,1101.0 1186.2,1101.2 C1190.7,1101.4 1193.1,1103.2 1196.5,1105.9 C1199.9,1108.6 1203.0,1113.3 1206.8,1117.3 C1210.6,1121.3 1214.0,1124.0 1219.2,1129.7 C1224.4,1135.4 1232.3,1147.2 1237.8,1151.3 C1243.3,1155.4 1247.7,1154.6 1252.2,1154.4 C1256.7,1154.2 1259.5,1154.1 1264.6,1150.3 C1269.7,1146.5 1276.9,1137.9 1283.0,1131.7 L1283.0,1313.5 L1186.2,1313.5 C1181.4,1309.3 1176.9,1304.8 1171.7,1301.0 C1166.5,1297.2 1161.4,1294.1 1155.2,1290.7 C1149.0,1287.3 1141.4,1283.2 1134.5,1280.4 C1127.6,1277.7 1120.1,1274.7 1113.9,1274.2 C1107.7,1273.7 1103.6,1275.6 1097.4,1277.3 C1091.2,1279.0 1082.9,1282.4 1076.7,1284.5 C1070.5,1286.6 1064.7,1288.0 1060.2,1289.7 C1055.7,1291.4 1054.4,1290.9 1049.9,1294.9 C1045.4,1298.9 1038.9,1307.3 1033.4,1313.5 L1021.0,1313.5 C1016.9,1304.2 1013.8,1291.5 1008.6,1285.5 C1003.4,1279.5 994.8,1279.2 990.0,1277.3 C985.2,1275.4 983.5,1275.4 980.0,1274.2 C976.5,1273.0 974.0,1273.0 969.1,1270.1 C964.2,1267.2 955.7,1259.5 950.5,1256.6 C945.3,1253.7 944.6,1253.2 938.1,1252.5 C931.6,1251.8 917.5,1253.3 911.3,1252.5 C905.1,1251.7 904.3,1250.7 900.9,1247.4 C897.5,1244.1 893.4,1237.9 890.6,1232.9 C887.9,1227.9 881.3,1223.2 884.4,1217.4 Z" fill="#030AD6"/>
<path d="M262.7,882.2 C264.4,876.7 279.1,877.1 286.5,875.0 C293.9,872.9 299.5,871.2 307.1,869.8 C314.7,868.3 319.8,866.6 331.9,866.3 C344.0,866.0 367.9,866.0 380.0,867.8 C392.1,869.6 396.5,873.9 404.8,877.0 C413.1,880.1 422.0,883.9 429.6,886.3 C437.2,888.7 444.0,888.2 450.2,891.5 C456.4,894.8 461.2,901.2 466.7,906.0 C472.2,910.8 477.9,916.3 483.2,920.4 C488.5,924.5 498.7,926.2 498.7,930.7 C498.7,935.2 488.5,941.4 483.2,947.3 C477.9,953.1 471.8,961.2 466.7,965.8 C461.6,970.4 458.1,972.9 452.3,975.1 C446.5,977.4 438.5,977.2 431.6,979.3 C424.7,981.4 416.9,985.6 411.0,987.5 C405.1,989.4 401.7,990.1 396.5,990.6 C391.3,991.1 385.3,991.1 380.0,990.6 C374.7,990.1 370.2,989.2 364.9,987.5 C359.6,985.8 354.9,984.9 348.4,980.3 C341.9,975.6 332.6,965.5 325.7,959.6 C318.8,953.8 313.5,949.8 307.1,945.2 C300.7,940.6 292.6,938.0 287.5,931.8 C282.4,925.6 280.3,916.3 276.2,908.0 C272.1,899.7 261.0,887.7 262.7,882.2 Z" fill="#FF4800"/>
<path d="M253.4,1073.9 C253.8,1070.0 257.2,1069.3 261.7,1066.7 C266.2,1064.1 274.8,1060.0 280.3,1058.4 C285.8,1056.8 289.9,1057.0 294.7,1057.0 C299.5,1057.0 305.4,1057.1 309.2,1058.4 C313.0,1059.7 314.9,1062.0 317.5,1064.6 C320.1,1067.2 324.7,1069.9 324.7,1073.9 C324.7,1077.9 320.1,1083.4 317.5,1088.4 C314.9,1093.4 312.3,1099.8 309.2,1103.8 C306.1,1107.8 302.3,1110.3 298.9,1112.1 C295.4,1113.9 291.9,1114.6 288.5,1114.6 C285.1,1114.6 281.6,1113.7 278.2,1112.1 C274.8,1110.5 271.0,1108.5 267.9,1104.9 C264.8,1101.3 262.0,1095.6 259.6,1090.4 C257.2,1085.2 253.1,1077.9 253.4,1073.9 Z" fill="#FF4800"/>
<path d="M516.3,1026.7 C516.0,1020.7 523.2,1013.8 528.7,1009.2 C534.2,1004.6 539.0,1000.5 549.3,998.9 C559.6,997.2 577.5,997.9 590.6,999.3 C603.7,1000.7 618.5,1005.8 627.8,1007.1 C637.1,1008.4 639.5,1008.7 646.4,1007.1 C653.3,1005.5 663.5,999.3 669.1,997.8 C674.7,996.2 674.8,996.8 680.0,997.8 C685.2,998.8 693.7,1001.9 700.6,1004.0 C707.5,1006.1 714.4,1008.8 721.3,1010.2 C728.2,1011.6 734.0,1011.6 741.9,1012.3 C749.8,1013.0 762.2,1013.4 768.8,1014.4 C775.3,1015.4 777.1,1016.5 781.2,1018.5 C785.3,1020.5 792.6,1022.3 793.6,1026.7 C794.6,1031.1 789.5,1038.2 787.4,1045.0 C785.3,1051.8 783.6,1062.2 781.2,1067.7 C778.8,1073.2 776.7,1073.9 772.9,1078.0 C769.1,1082.1 763.7,1087.7 758.5,1092.5 C753.3,1097.3 747.4,1101.9 741.9,1106.9 C736.4,1111.9 730.5,1118.4 725.4,1122.4 C720.2,1126.4 715.8,1128.8 711.0,1130.7 C706.2,1132.6 701.7,1132.9 696.5,1133.8 C691.3,1134.7 686.3,1135.2 680.0,1135.9 C673.7,1136.6 665.1,1137.6 658.8,1137.9 C652.5,1138.2 648.1,1139.1 642.2,1137.9 C636.4,1136.7 629.9,1133.3 623.7,1130.7 C617.5,1128.1 609.6,1125.3 605.1,1122.4 C600.6,1119.5 600.6,1118.1 596.8,1113.1 C593.0,1108.1 586.9,1098.0 582.4,1092.5 C577.9,1087.0 574.5,1083.5 570.0,1080.1 C565.5,1076.6 559.6,1074.5 555.5,1071.8 C551.4,1069.0 548.6,1067.2 545.2,1063.6 C541.8,1060.0 537.3,1053.1 534.9,1050.0 C532.5,1046.9 533.8,1048.9 530.7,1045.0 C527.6,1041.1 516.6,1032.7 516.3,1026.7 Z" fill="#FF4800"/>
<path d="M849.3,1040.2 C851.4,1033.9 854.1,1016.1 857.6,1007.1 C861.1,998.1 865.2,992.4 870.0,986.5 C874.8,980.6 880.3,977.9 886.5,972.0 C892.7,966.1 900.2,958.6 907.1,951.4 C914.0,944.2 920.9,935.6 927.8,928.7 C934.7,921.8 942.2,914.4 948.4,910.1 C954.6,905.8 959.6,904.8 964.9,902.9 C970.2,901.0 975.8,899.4 980.0,898.7 C984.2,898.0 984.9,897.8 990.0,898.7 C995.1,899.6 1003.7,901.3 1010.6,903.9 C1017.5,906.5 1025.1,911.1 1031.3,914.2 C1037.5,917.3 1043.7,921.2 1047.8,922.5 C1051.9,923.8 1050.9,924.3 1056.1,922.1 C1061.3,919.9 1070.5,913.3 1078.8,909.1 C1087.0,904.9 1098.0,901.4 1105.6,896.7 C1113.2,892.1 1120.1,884.6 1124.2,881.2 C1128.3,877.9 1128.0,877.4 1130.4,876.6 C1132.8,875.8 1135.2,875.2 1138.7,876.6 C1142.2,878.0 1147.7,883.5 1151.1,885.3 C1154.5,887.1 1156.5,887.9 1159.3,887.4 C1162.0,886.9 1164.5,886.7 1167.6,882.2 C1170.7,877.7 1174.5,865.7 1177.9,860.5 C1181.3,855.3 1185.1,852.6 1188.2,851.2 C1191.3,849.8 1193.0,850.0 1196.5,851.9 C1200.0,853.8 1204.4,857.4 1208.9,862.6 C1213.4,867.8 1218.8,878.7 1223.3,883.2 C1227.8,887.7 1231.9,888.4 1235.7,889.4 C1239.5,890.4 1242.2,890.9 1246.0,889.4 C1249.8,887.9 1254.6,885.2 1258.4,880.1 C1262.2,875.0 1264.7,865.9 1268.8,858.5 C1272.9,851.1 1278.3,843.4 1283.0,835.8 L1283.0,1036.0 C1278.3,1039.0 1274.3,1041.6 1268.8,1045.0 C1263.3,1048.4 1255.4,1054.5 1250.2,1056.4 C1245.0,1058.3 1241.6,1057.1 1237.8,1056.4 C1234.0,1055.7 1231.3,1054.1 1227.5,1052.2 C1223.7,1050.3 1218.5,1046.7 1215.1,1045.0 C1211.6,1043.3 1211.3,1043.7 1206.8,1042.2 C1202.3,1040.7 1196.8,1037.3 1188.2,1036.0 C1179.6,1034.7 1165.9,1034.2 1155.2,1034.4 C1144.5,1034.6 1133.8,1035.8 1124.2,1037.1 C1114.6,1038.4 1105.0,1041.2 1097.4,1042.2 C1089.8,1043.2 1084.7,1044.0 1078.8,1043.3 C1072.9,1042.6 1068.5,1040.7 1062.3,1038.1 C1056.1,1035.5 1048.5,1031.6 1041.6,1027.8 C1034.7,1024.0 1026.8,1018.3 1021.0,1015.4 C1015.1,1012.5 1011.7,1011.1 1006.5,1010.2 C1001.3,1009.3 994.4,1009.7 990.0,1010.2 C985.6,1010.7 986.9,1011.0 980.0,1013.3 C973.1,1015.5 957.4,1018.4 948.4,1023.7 C939.4,1029.0 931.2,1038.7 925.7,1045.0 C920.2,1051.3 918.1,1056.0 915.4,1061.5 C912.6,1067.0 911.6,1071.8 909.2,1078.0 C906.8,1084.2 904.0,1092.9 900.9,1098.7 C897.8,1104.5 894.7,1109.3 890.6,1113.1 C886.5,1116.9 882.1,1119.3 876.2,1121.4 C870.4,1123.5 861.0,1124.6 855.5,1125.5 C850.0,1126.4 847.1,1127.3 843.1,1126.6 C839.1,1125.9 833.5,1126.4 831.8,1121.4 C830.1,1116.4 832.3,1104.5 832.8,1096.6 C833.3,1088.7 832.8,1082.5 834.9,1073.9 C837.0,1065.3 842.8,1050.6 845.2,1045.0 C847.6,1039.4 847.2,1046.5 849.3,1040.2 Z" fill="#FF4800"/>
<path d="M968.0,929.0 C967.5,925.7 972.0,927.8 975.0,927.5 C978.0,927.2 983.5,927.2 986.0,927.5 C988.5,927.8 991.3,925.7 990.0,929.0 C988.7,932.3 981.8,947.3 978.1,947.3 C974.4,947.3 968.5,932.3 968.0,929.0 Z" fill="#9C0000"/>
<path d="M1189.3,979.3 C1190.0,974.8 1195.3,965.6 1198.6,959.6 C1201.9,953.6 1205.5,947.6 1208.9,943.1 C1212.3,938.6 1215.8,935.0 1219.2,932.8 C1222.6,930.6 1224.7,930.7 1229.5,929.7 C1234.3,928.7 1242.2,927.8 1248.1,926.6 C1253.9,925.4 1259.8,924.6 1264.6,922.5 C1269.4,920.4 1273.9,917.3 1277.0,914.2 C1280.1,911.1 1281.0,907.3 1283.0,903.9 L1283.0,955.5 C1281.3,956.9 1280.0,955.8 1278.0,959.6 C1276.0,963.4 1272.7,972.0 1270.8,978.2 C1268.9,984.4 1267.7,989.2 1266.7,996.8 C1265.7,1004.4 1266.3,1018.0 1264.6,1023.7 C1262.9,1029.4 1259.5,1029.2 1256.4,1030.9 C1253.3,1032.6 1249.5,1033.5 1246.0,1034.0 C1242.5,1034.5 1239.8,1034.8 1235.7,1033.6 C1231.6,1032.4 1224.4,1029.4 1221.3,1026.7 C1218.2,1024.0 1219.5,1021.6 1217.1,1017.5 C1214.7,1013.4 1210.6,1007.2 1206.8,1002.0 C1203.0,996.8 1197.3,990.3 1194.4,986.5 C1191.5,982.7 1188.6,983.8 1189.3,979.3 Z" fill="#9C0000"/>
<path d="M1163.4,1168.9 C1163.7,1166.2 1167.2,1161.7 1169.6,1159.6 C1172.0,1157.5 1175.5,1154.5 1177.9,1156.1 C1180.3,1157.6 1184.1,1165.7 1184.1,1168.9 C1184.1,1172.1 1180.7,1174.3 1177.9,1175.5 C1175.2,1176.7 1170.0,1177.2 1167.6,1176.1 C1165.2,1175.0 1163.1,1171.7 1163.4,1168.9 Z" fill="#88D9FF"/>
<path d="M85.5,1202.9 C89.6,1198.7 102.3,1185.7 110.0,1177.8 C117.7,1169.9 124.6,1162.8 131.9,1155.3 C139.2,1147.8 147.5,1139.4 153.8,1132.9 C160.2,1126.4 164.6,1121.9 170.0,1116.3 C175.4,1110.7 179.6,1106.4 186.3,1099.5 C193.0,1092.6 203.7,1081.4 210.0,1074.8 C216.3,1068.2 218.2,1066.2 224.4,1059.8 C230.7,1053.4 239.3,1044.5 247.5,1036.2 C255.7,1027.9 265.0,1018.2 273.8,1010.1 C282.6,1002.0 291.3,994.5 300.1,987.5 C308.9,980.5 318.1,974.0 326.4,968.0 C334.7,962.0 343.4,955.5 350.0,951.2 C356.6,946.9 361.4,944.2 366.3,942.0 C371.2,939.8 375.0,938.9 379.4,937.8 C383.8,936.7 389.2,935.7 392.6,935.2 C396.0,934.7 396.6,934.5 400.0,934.7 C403.4,934.9 408.7,935.5 413.1,936.4 C417.5,937.3 421.9,938.5 426.3,940.0 C430.7,941.5 435.0,943.4 439.4,945.2 C443.8,947.0 447.9,948.5 452.6,950.7 C457.3,952.9 462.8,956.0 467.6,958.5 C472.4,961.0 477.7,963.5 481.4,965.5 C485.1,967.5 486.1,968.0 490.0,970.3 C493.9,972.5 499.9,976.1 505.0,979.0 C510.1,981.9 515.7,984.9 520.7,987.7 C525.7,990.5 530.1,993.2 535.0,996.0 C539.9,998.8 544.2,1000.9 550.0,1004.3 C555.8,1007.7 562.2,1012.2 569.6,1016.5 C577.0,1020.8 586.0,1026.3 594.3,1030.3 C602.5,1034.3 610.8,1037.5 619.1,1040.5 C627.4,1043.5 637.1,1046.2 643.9,1048.0 C650.7,1049.8 654.0,1050.4 660.0,1051.5 C666.0,1052.6 673.3,1053.5 680.0,1054.5 C686.7,1055.5 693.3,1056.4 700.0,1057.2 C706.7,1058.0 712.8,1058.6 720.0,1059.4 C727.2,1060.2 736.3,1061.5 743.0,1062.0 C749.7,1062.5 754.2,1062.4 760.0,1062.4 C765.8,1062.4 772.4,1062.3 777.5,1062.1 C782.6,1061.8 786.3,1061.4 790.7,1060.9 C795.1,1060.4 798.9,1060.0 803.8,1058.9 C808.7,1057.9 814.4,1056.2 820.0,1054.6 C825.6,1053.0 831.6,1051.2 837.5,1049.1 C843.4,1047.0 849.2,1044.8 855.1,1042.1 C861.0,1039.4 866.8,1036.0 872.6,1032.7 C878.4,1029.4 884.5,1025.8 890.0,1022.5 C895.5,1019.2 900.7,1016.1 905.7,1013.0 C910.7,1009.9 915.1,1007.0 920.0,1004.0 C924.9,1001.0 929.6,997.8 935.0,994.7 C940.4,991.6 946.6,988.2 952.5,985.6 C958.4,983.0 964.2,980.9 970.1,979.1 C976.0,977.3 981.2,976.0 987.6,974.8 C994.0,973.5 1002.4,972.3 1008.7,971.6 C1015.0,970.9 1020.0,970.6 1025.2,970.4 C1030.4,970.2 1034.5,970.2 1040.0,970.2 C1045.5,970.2 1053.1,970.4 1058.2,970.6 C1063.3,970.8 1066.2,971.0 1070.7,971.3 C1075.2,971.6 1080.1,972.0 1085.0,972.4 C1089.9,972.8 1093.8,973.1 1100.0,973.4 C1106.2,973.7 1115.3,974.3 1121.9,974.3 C1128.5,974.3 1133.1,974.1 1139.4,973.4 C1145.8,972.7 1154.1,971.2 1160.0,970.3 C1165.9,969.3 1169.9,968.6 1175.0,967.7 C1180.1,966.8 1185.7,966.0 1190.7,965.1 C1195.7,964.2 1200.1,963.4 1205.0,962.6 C1209.9,961.8 1214.2,961.0 1220.0,960.1 C1225.8,959.2 1234.0,958.0 1240.0,957.1 C1246.0,956.2 1250.7,955.6 1255.7,954.9 C1260.7,954.2 1265.5,953.4 1270.0,952.7 C1274.5,952.0 1280.8,950.9 1283.0,950.5" fill="none" stroke="#00FF00" stroke-width="7" stroke-linejoin="round"/>
</g>
<rect x="85.5" y="56.6" width="1197.5" height="525.8" fill="none" stroke="#000" stroke-width="1.6"/>
<line x1="85.5" y1="582.4" x2="85.5" y2="594.4" stroke="#000" stroke-width="1.6"/>
<line x1="85.5" y1="56.6" x2="85.5" y2="44.6" stroke="#000" stroke-width="1.6"/>
<line x1="285.08333333333337" y1="582.4" x2="285.08333333333337" y2="594.4" stroke="#000" stroke-width="1.6"/>
<line x1="285.08333333333337" y1="56.6" x2="285.08333333333337" y2="44.6" stroke="#000" stroke-width="1.6"/>
<line x1="484.6666666666667" y1="582.4" x2="484.6666666666667" y2="594.4" stroke="#000" stroke-width="1.6"/>
<line x1="484.6666666666667" y1="56.6" x2="484.6666666666667" y2="44.6" stroke="#000" stroke-width="1.6"/>
<line x1="684.25" y1="582.4" x2="684.25" y2="594.4" stroke="#000" stroke-width="1.6"/>
<line x1="684.25" y1="56.6" x2="684.25" y2="44.6" stroke="#000" stroke-width="1.6"/>
<line x1="883.8333333333334" y1="582.4" x2="883.8333333333334" y2="594.4" stroke="#000" stroke-width="1.6"/>
<line x1="883.8333333333334" y1="56.6" x2="883.8333333333334" y2="44.6" stroke="#000" stroke-width="1.6"/>
<line x1="1083.4166666666665" y1="582.4" x2="1083.4166666666665" y2="594.4" stroke="#000" stroke-width="1.6"/>
<line x1="1083.4166666666665" y1="56.6" x2="1083.4166666666665" y2="44.6" stroke="#000" stroke-width="1.6"/>
<line x1="1283.0" y1="582.4" x2="1283.0" y2="594.4" stroke="#000" stroke-width="1.6"/>
<line x1="1283.0" y1="56.6" x2="1283.0" y2="44.6" stroke="#000" stroke-width="1.6"/>
<line x1="73.5" y1="56.6" x2="85.5" y2="56.6" stroke="#000" stroke-width="1.6"/>
<line x1="1283.0" y1="56.6" x2="1295.0" y2="56.6" stroke="#000" stroke-width="1.6"/>
<line x1="73.5" y1="151.6" x2="85.5" y2="151.6" stroke="#000" stroke-width="1.6"/>
<line x1="1283.0" y1="151.6" x2="1295.0" y2="151.6" stroke="#000" stroke-width="1.6"/>
<line x1="73.5" y1="247.1" x2="85.5" y2="247.1" stroke="#000" stroke-width="1.6"/>
<line x1="1283.0" y1="247.1" x2="1295.0" y2="247.1" stroke="#000" stroke-width="1.6"/>
<line x1="73.5" y1="342.7" x2="85.5" y2="342.7" stroke="#000" stroke-width="1.6"/>
<line x1="1283.0" y1="342.7" x2="1295.0" y2="342.7" stroke="#000" stroke-width="1.6"/>
<line x1="73.5" y1="438.4" x2="85.5" y2="438.4" stroke="#000" stroke-width="1.6"/>
<line x1="1283.0" y1="438.4" x2="1295.0" y2="438.4" stroke="#000" stroke-width="1.6"/>
<line x1="73.5" y1="534.2" x2="85.5" y2="534.2" stroke="#000" stroke-width="1.6"/>
<line x1="1283.0" y1="534.2" x2="1295.0" y2="534.2" stroke="#000" stroke-width="1.6"/>
<rect x="85.5" y="787.6" width="1197.5" height="525.8000000000001" fill="none" stroke="#000" stroke-width="1.6"/>
<line x1="85.5" y1="1313.4" x2="85.5" y2="1325.4" stroke="#000" stroke-width="1.6"/>
<line x1="85.5" y1="787.6" x2="85.5" y2="775.6" stroke="#000" stroke-width="1.6"/>
<line x1="285.08333333333337" y1="1313.4" x2="285.08333333333337" y2="1325.4" stroke="#000" stroke-width="1.6"/>
<line x1="285.08333333333337" y1="787.6" x2="285.08333333333337" y2="775.6" stroke="#000" stroke-width="1.6"/>
<line x1="484.6666666666667" y1="1313.4" x2="484.6666666666667" y2="1325.4" stroke="#000" stroke-width="1.6"/>
<line x1="484.6666666666667" y1="787.6" x2="484.6666666666667" y2="775.6" stroke="#000" stroke-width="1.6"/>
<line x1="684.25" y1="1313.4" x2="684.25" y2="1325.4" stroke="#000" stroke-width="1.6"/>
<line x1="684.25" y1="787.6" x2="684.25" y2="775.6" stroke="#000" stroke-width="1.6"/>
<line x1="883.8333333333334" y1="1313.4" x2="883.8333333333334" y2="1325.4" stroke="#000" stroke-width="1.6"/>
<line x1="883.8333333333334" y1="787.6" x2="883.8333333333334" y2="775.6" stroke="#000" stroke-width="1.6"/>
<line x1="1083.4166666666665" y1="1313.4" x2="1083.4166666666665" y2="1325.4" stroke="#000" stroke-width="1.6"/>
<line x1="1083.4166666666665" y1="787.6" x2="1083.4166666666665" y2="775.6" stroke="#000" stroke-width="1.6"/>
<line x1="1283.0" y1="1313.4" x2="1283.0" y2="1325.4" stroke="#000" stroke-width="1.6"/>
<line x1="1283.0" y1="787.6" x2="1283.0" y2="775.6" stroke="#000" stroke-width="1.6"/>
<line x1="73.5" y1="787.6" x2="85.5" y2="787.6" stroke="#000" stroke-width="1.6"/>
<line x1="1283.0" y1="787.6" x2="1295.0" y2="787.6" stroke="#000" stroke-width="1.6"/>
<line x1="73.5" y1="882.6" x2="85.5" y2="882.6" stroke="#000" stroke-width="1.6"/>
<line x1="1283.0" y1="882.6" x2="1295.0" y2="882.6" stroke="#000" stroke-width="1.6"/>
<line x1="73.5" y1="978.1" x2="85.5" y2="978.1" stroke="#000" stroke-width="1.6"/>
<line x1="1283.0" y1="978.1" x2="1295.0" y2="978.1" stroke="#000" stroke-width="1.6"/>
<line x1="73.5" y1="1073.7" x2="85.5" y2="1073.7" stroke="#000" stroke-width="1.6"/>
<line x1="1283.0" y1="1073.7" x2="1295.0" y2="1073.7" stroke="#000" stroke-width="1.6"/>
<line x1="73.5" y1="1169.4" x2="85.5" y2="1169.4" stroke="#000" stroke-width="1.6"/>
<line x1="1283.0" y1="1169.4" x2="1295.0" y2="1169.4" stroke="#000" stroke-width="1.6"/>
<line x1="73.5" y1="1265.2" x2="85.5" y2="1265.2" stroke="#000" stroke-width="1.6"/>
<line x1="1283.0" y1="1265.2" x2="1295.0" y2="1265.2" stroke="#000" stroke-width="1.6"/>
<text x="62.8" y="69.7" font-family="Liberation Sans, sans-serif" font-size="35.6" stroke="#000" stroke-width="0.25" text-anchor="end">D</text>
<text x="62.8" y="164.7" font-family="Liberation Sans, sans-serif" font-size="35.6" stroke="#000" stroke-width="0.25" text-anchor="end">O</text>
<text x="62.8" y="260.2" font-family="Liberation Sans, sans-serif" font-size="35.6" stroke="#000" stroke-width="0.25" text-anchor="end">A</text>
<text x="62.8" y="355.8" font-family="Liberation Sans, sans-serif" font-size="35.6" stroke="#000" stroke-width="0.25" text-anchor="end">J</text>
<text x="62.8" y="451.5" font-family="Liberation Sans, sans-serif" font-size="35.6" stroke="#000" stroke-width="0.25" text-anchor="end">A</text>
<text x="62.8" y="547.3000000000001" font-family="Liberation Sans, sans-serif" font-size="35.6" stroke="#000" stroke-width="0.25" text-anchor="end">F</text>
<text x="62.8" y="800.7" font-family="Liberation Sans, sans-serif" font-size="35.6" stroke="#000" stroke-width="0.25" text-anchor="end">D</text>
<text x="62.8" y="895.7" font-family="Liberation Sans, sans-serif" font-size="35.6" stroke="#000" stroke-width="0.25" text-anchor="end">O</text>
<text x="62.8" y="991.2" font-family="Liberation Sans, sans-serif" font-size="35.6" stroke="#000" stroke-width="0.25" text-anchor="end">A</text>
<text x="62.8" y="1086.8" font-family="Liberation Sans, sans-serif" font-size="35.6" stroke="#000" stroke-width="0.25" text-anchor="end">J</text>
<text x="62.8" y="1182.5" font-family="Liberation Sans, sans-serif" font-size="35.6" stroke="#000" stroke-width="0.25" text-anchor="end">A</text>
<text x="62.8" y="1278.3" font-family="Liberation Sans, sans-serif" font-size="35.6" stroke="#000" stroke-width="0.25" text-anchor="end">F</text>
<text x="85.5" y="636.5" font-family="Liberation Sans, sans-serif" font-size="35.6" stroke="#000" stroke-width="0.25" text-anchor="middle">0°N</text>
<text x="85.5" y="1366.5" font-family="Liberation Sans, sans-serif" font-size="35.6" stroke="#000" stroke-width="0.25" text-anchor="middle">0°N</text>
<text x="285.08333333333337" y="636.5" font-family="Liberation Sans, sans-serif" font-size="35.6" stroke="#000" stroke-width="0.25" text-anchor="middle">5°N</text>
<text x="285.08333333333337" y="1366.5" font-family="Liberation Sans, sans-serif" font-size="35.6" stroke="#000" stroke-width="0.25" text-anchor="middle">5°N</text>
<text x="484.6666666666667" y="636.5" font-family="Liberation Sans, sans-serif" font-size="35.6" stroke="#000" stroke-width="0.25" text-anchor="middle">10°N</text>
<text x="484.6666666666667" y="1366.5" font-family="Liberation Sans, sans-serif" font-size="35.6" stroke="#000" stroke-width="0.25" text-anchor="middle">10°N</text>
<text x="684.25" y="636.5" font-family="Liberation Sans, sans-serif" font-size="35.6" stroke="#000" stroke-width="0.25" text-anchor="middle">15°N</text>
<text x="684.25" y="1366.5" font-family="Liberation Sans, sans-serif" font-size="35.6" stroke="#000" stroke-width="0.25" text-anchor="middle">15°N</text>
<text x="883.8333333333334" y="636.5" font-family="Liberation Sans, sans-serif" font-size="35.6" stroke="#000" stroke-width="0.25" text-anchor="middle">20°N</text>
<text x="883.8333333333334" y="1366.5" font-family="Liberation Sans, sans-serif" font-size="35.6" stroke="#000" stroke-width="0.25" text-anchor="middle">20°N</text>
<text x="1083.4166666666665" y="636.5" font-family="Liberation Sans, sans-serif" font-size="35.6" stroke="#000" stroke-width="0.25" text-anchor="middle">25°N</text>
<text x="1083.4166666666665" y="1366.5" font-family="Liberation Sans, sans-serif" font-size="35.6" stroke="#000" stroke-width="0.25" text-anchor="middle">25°N</text>
<text x="1283.0" y="636.5" font-family="Liberation Sans, sans-serif" font-size="35.6" stroke="#000" stroke-width="0.25" text-anchor="middle">30°N</text>
<text x="1283.0" y="1366.5" font-family="Liberation Sans, sans-serif" font-size="35.6" stroke="#000" stroke-width="0.25" text-anchor="middle">30°N</text>
<text x="702.3" y="29.7" font-family="Liberation Serif, serif" font-size="36.3" stroke="#000" stroke-width="0.45" text-anchor="middle">Wind stress curl anomaly along 130°E</text>
<text x="702.8" y="760.5" font-family="Liberation Serif, serif" font-size="36.2" stroke="#000" stroke-width="0.45" text-anchor="middle">Satellite SSHa along 130°E</text>
<text x="-0.6" y="24.2" font-family="Liberation Sans, sans-serif" font-weight="bold" font-size="30">A</text>
<text x="0" y="757.6" font-family="Liberation Sans, sans-serif" font-weight="bold" font-size="29.5">B</text>
<rect x="1318" y="87.3" width="44" height="30.5" fill="#9C0000" shape-rendering="crispEdges"/>
<rect x="1318" y="117.3" width="44" height="30.5" fill="#D40000" shape-rendering="crispEdges"/>
<rect x="1318" y="147.3" width="44" height="30.5" fill="#FF0000" shape-rendering="crispEdges"/>
<rect x="1318" y="177.3" width="44" height="30.5" fill="#FF4800" shape-rendering="crispEdges"/>
<rect x="1318" y="207.3" width="44" height="30.5" fill="#FF8C00" shape-rendering="crispEdges"/>
<rect x="1318" y="237.3" width="44" height="30.5" fill="#FFC000" shape-rendering="crispEdges"/>
<rect x="1318" y="267.3" width="44" height="30.5" fill="#FFE800" shape-rendering="crispEdges"/>
<rect x="1318" y="297.3" width="44" height="30.5" fill="#FFFF48" shape-rendering="crispEdges"/>
<rect x="1318" y="327.3" width="44" height="30.5" fill="#CCFFFF" shape-rendering="crispEdges"/>
<rect x="1318" y="357.3" width="44" height="30.5" fill="#AAF4FF" shape-rendering="crispEdges"/>
<rect x="1318" y="387.3" width="44" height="30.5" fill="#9EEEFF" shape-rendering="crispEdges"/>
<rect x="1318" y="417.3" width="44" height="30.5" fill="#88D9FF" shape-rendering="crispEdges"/>
<rect x="1318" y="447.3" width="44" height="30.5" fill="#6CBEFF" shape-rendering="crispEdges"/>
<rect x="1318" y="477.3" width="44" height="30.5" fill="#4296FF" shape-rendering="crispEdges"/>
<rect x="1318" y="507.3" width="44" height="30.5" fill="#2250FF" shape-rendering="crispEdges"/>
<rect x="1318" y="537.3" width="44" height="30.5" fill="#030AD6" shape-rendering="crispEdges"/>
<rect x="1318" y="87.3" width="44" height="480.0" fill="none" stroke="#000" stroke-width="1.6"/>
<line x1="1318" y1="87.3" x2="1322" y2="87.3" stroke="#000" stroke-width="1.4"/>
<line x1="1358" y1="87.3" x2="1362" y2="87.3" stroke="#000" stroke-width="1.4"/>
<text x="1372" y="99.89999999999999" font-family="Liberation Sans, sans-serif" font-size="35.6" stroke="#000" stroke-width="0.25">3</text>
<line x1="1318" y1="167.3" x2="1322" y2="167.3" stroke="#000" stroke-width="1.4"/>
<line x1="1358" y1="167.3" x2="1362" y2="167.3" stroke="#000" stroke-width="1.4"/>
<text x="1372" y="179.9" font-family="Liberation Sans, sans-serif" font-size="35.6" stroke="#000" stroke-width="0.25">2</text>
<line x1="1318" y1="247.3" x2="1322" y2="247.3" stroke="#000" stroke-width="1.4"/>
<line x1="1358" y1="247.3" x2="1362" y2="247.3" stroke="#000" stroke-width="1.4"/>
<text x="1372" y="259.90000000000003" font-family="Liberation Sans, sans-serif" font-size="35.6" stroke="#000" stroke-width="0.25">1</text>
<line x1="1318" y1="327.3" x2="1322" y2="327.3" stroke="#000" stroke-width="1.4"/>
<line x1="1358" y1="327.3" x2="1362" y2="327.3" stroke="#000" stroke-width="1.4"/>
<text x="1372" y="339.90000000000003" font-family="Liberation Sans, sans-serif" font-size="35.6" stroke="#000" stroke-width="0.25">0</text>
<line x1="1318" y1="407.3" x2="1322" y2="407.3" stroke="#000" stroke-width="1.4"/>
<line x1="1358" y1="407.3" x2="1362" y2="407.3" stroke="#000" stroke-width="1.4"/>
<text x="1372" y="419.90000000000003" font-family="Liberation Sans, sans-serif" font-size="35.6" stroke="#000" stroke-width="0.25">-1</text>
<line x1="1318" y1="487.3" x2="1322" y2="487.3" stroke="#000" stroke-width="1.4"/>
<line x1="1358" y1="487.3" x2="1362" y2="487.3" stroke="#000" stroke-width="1.4"/>
<text x="1372" y="499.90000000000003" font-family="Liberation Sans, sans-serif" font-size="35.6" stroke="#000" stroke-width="0.25">-2</text>
<line x1="1318" y1="567.3" x2="1322" y2="567.3" stroke="#000" stroke-width="1.4"/>
<line x1="1358" y1="567.3" x2="1362" y2="567.3" stroke="#000" stroke-width="1.4"/>
<text x="1372" y="579.9" font-family="Liberation Sans, sans-serif" font-size="35.6" stroke="#000" stroke-width="0.25">-3</text>
<rect x="1318" y="818.0" width="44" height="30.5" fill="#9C0000" shape-rendering="crispEdges"/>
<rect x="1318" y="848.0" width="44" height="30.5" fill="#D40000" shape-rendering="crispEdges"/>
<rect x="1318" y="878.0" width="44" height="30.5" fill="#FF0000" shape-rendering="crispEdges"/>
<rect x="1318" y="908.0" width="44" height="30.5" fill="#FF4800" shape-rendering="crispEdges"/>
<rect x="1318" y="938.0" width="44" height="30.5" fill="#FF8C00" shape-rendering="crispEdges"/>
<rect x="1318" y="968.0" width="44" height="30.5" fill="#FFC000" shape-rendering="crispEdges"/>
<rect x="1318" y="998.0" width="44" height="30.5" fill="#FFE800" shape-rendering="crispEdges"/>
<rect x="1318" y="1028.0" width="44" height="30.5" fill="#FFFF48" shape-rendering="crispEdges"/>
<rect x="1318" y="1058.0" width="44" height="30.5" fill="#CCFFFF" shape-rendering="crispEdges"/>
<rect x="1318" y="1088.0" width="44" height="30.5" fill="#AAF4FF" shape-rendering="crispEdges"/>
<rect x="1318" y="1118.0" width="44" height="30.5" fill="#9EEEFF" shape-rendering="crispEdges"/>
<rect x="1318" y="1148.0" width="44" height="30.5" fill="#88D9FF" shape-rendering="crispEdges"/>
<rect x="1318" y="1178.0" width="44" height="30.5" fill="#6CBEFF" shape-rendering="crispEdges"/>
<rect x="1318" y="1208.0" width="44" height="30.5" fill="#4296FF" shape-rendering="crispEdges"/>
<rect x="1318" y="1238.0" width="44" height="30.5" fill="#2250FF" shape-rendering="crispEdges"/>
<rect x="1318" y="1268.0" width="44" height="30.5" fill="#030AD6" shape-rendering="crispEdges"/>
<rect x="1318" y="818.0" width="44" height="480.0" fill="none" stroke="#000" stroke-width="1.6"/>
<line x1="1318" y1="818.0" x2="1322" y2="818.0" stroke="#000" stroke-width="1.4"/>
<line x1="1358" y1="818.0" x2="1362" y2="818.0" stroke="#000" stroke-width="1.4"/>
<text x="1372" y="830.6" font-family="Liberation Sans, sans-serif" font-size="35.6" stroke="#000" stroke-width="0.25">0.1</text>
<line x1="1318" y1="938.0" x2="1322" y2="938.0" stroke="#000" stroke-width="1.4"/>
<line x1="1358" y1="938.0" x2="1362" y2="938.0" stroke="#000" stroke-width="1.4"/>
<text x="1372" y="950.6" font-family="Liberation Sans, sans-serif" font-size="35.6" stroke="#000" stroke-width="0.25">0.05</text>
<line x1="1318" y1="1058.0" x2="1322" y2="1058.0" stroke="#000" stroke-width="1.4"/>
<line x1="1358" y1="1058.0" x2="1362" y2="1058.0" stroke="#000" stroke-width="1.4"/>
<text x="1372" y="1070.6" font-family="Liberation Sans, sans-serif" font-size="35.6" stroke="#000" stroke-width="0.25">0</text>
<line x1="1318" y1="1178.0" x2="1322" y2="1178.0" stroke="#000" stroke-width="1.4"/>
<line x1="1358" y1="1178.0" x2="1362" y2="1178.0" stroke="#000" stroke-width="1.4"/>
<text x="1372" y="1190.6" font-family="Liberation Sans, sans-serif" font-size="35.6" stroke="#000" stroke-width="0.25">-0.05</text>
<line x1="1318" y1="1298.0" x2="1322" y2="1298.0" stroke="#000" stroke-width="1.4"/>
<line x1="1358" y1="1298.0" x2="1362" y2="1298.0" stroke="#000" stroke-width="1.4"/>
<text x="1372" y="1310.6" font-family="Liberation Sans, sans-serif" font-size="35.6" stroke="#000" stroke-width="0.25">-0.1</text>
<text x="1360" y="71.8" font-family="Liberation Sans, sans-serif" font-size="35.6" stroke="#000" stroke-width="0.25">x</text>
<text x="1387" y="71.8" font-family="Liberation Sans, sans-serif" font-size="35.6" stroke="#000" stroke-width="0.25">10</text>
<text x="1426" y="49.8" font-family="Liberation Sans, sans-serif" font-size="24">-7</text>
</svg>
</body></html>
